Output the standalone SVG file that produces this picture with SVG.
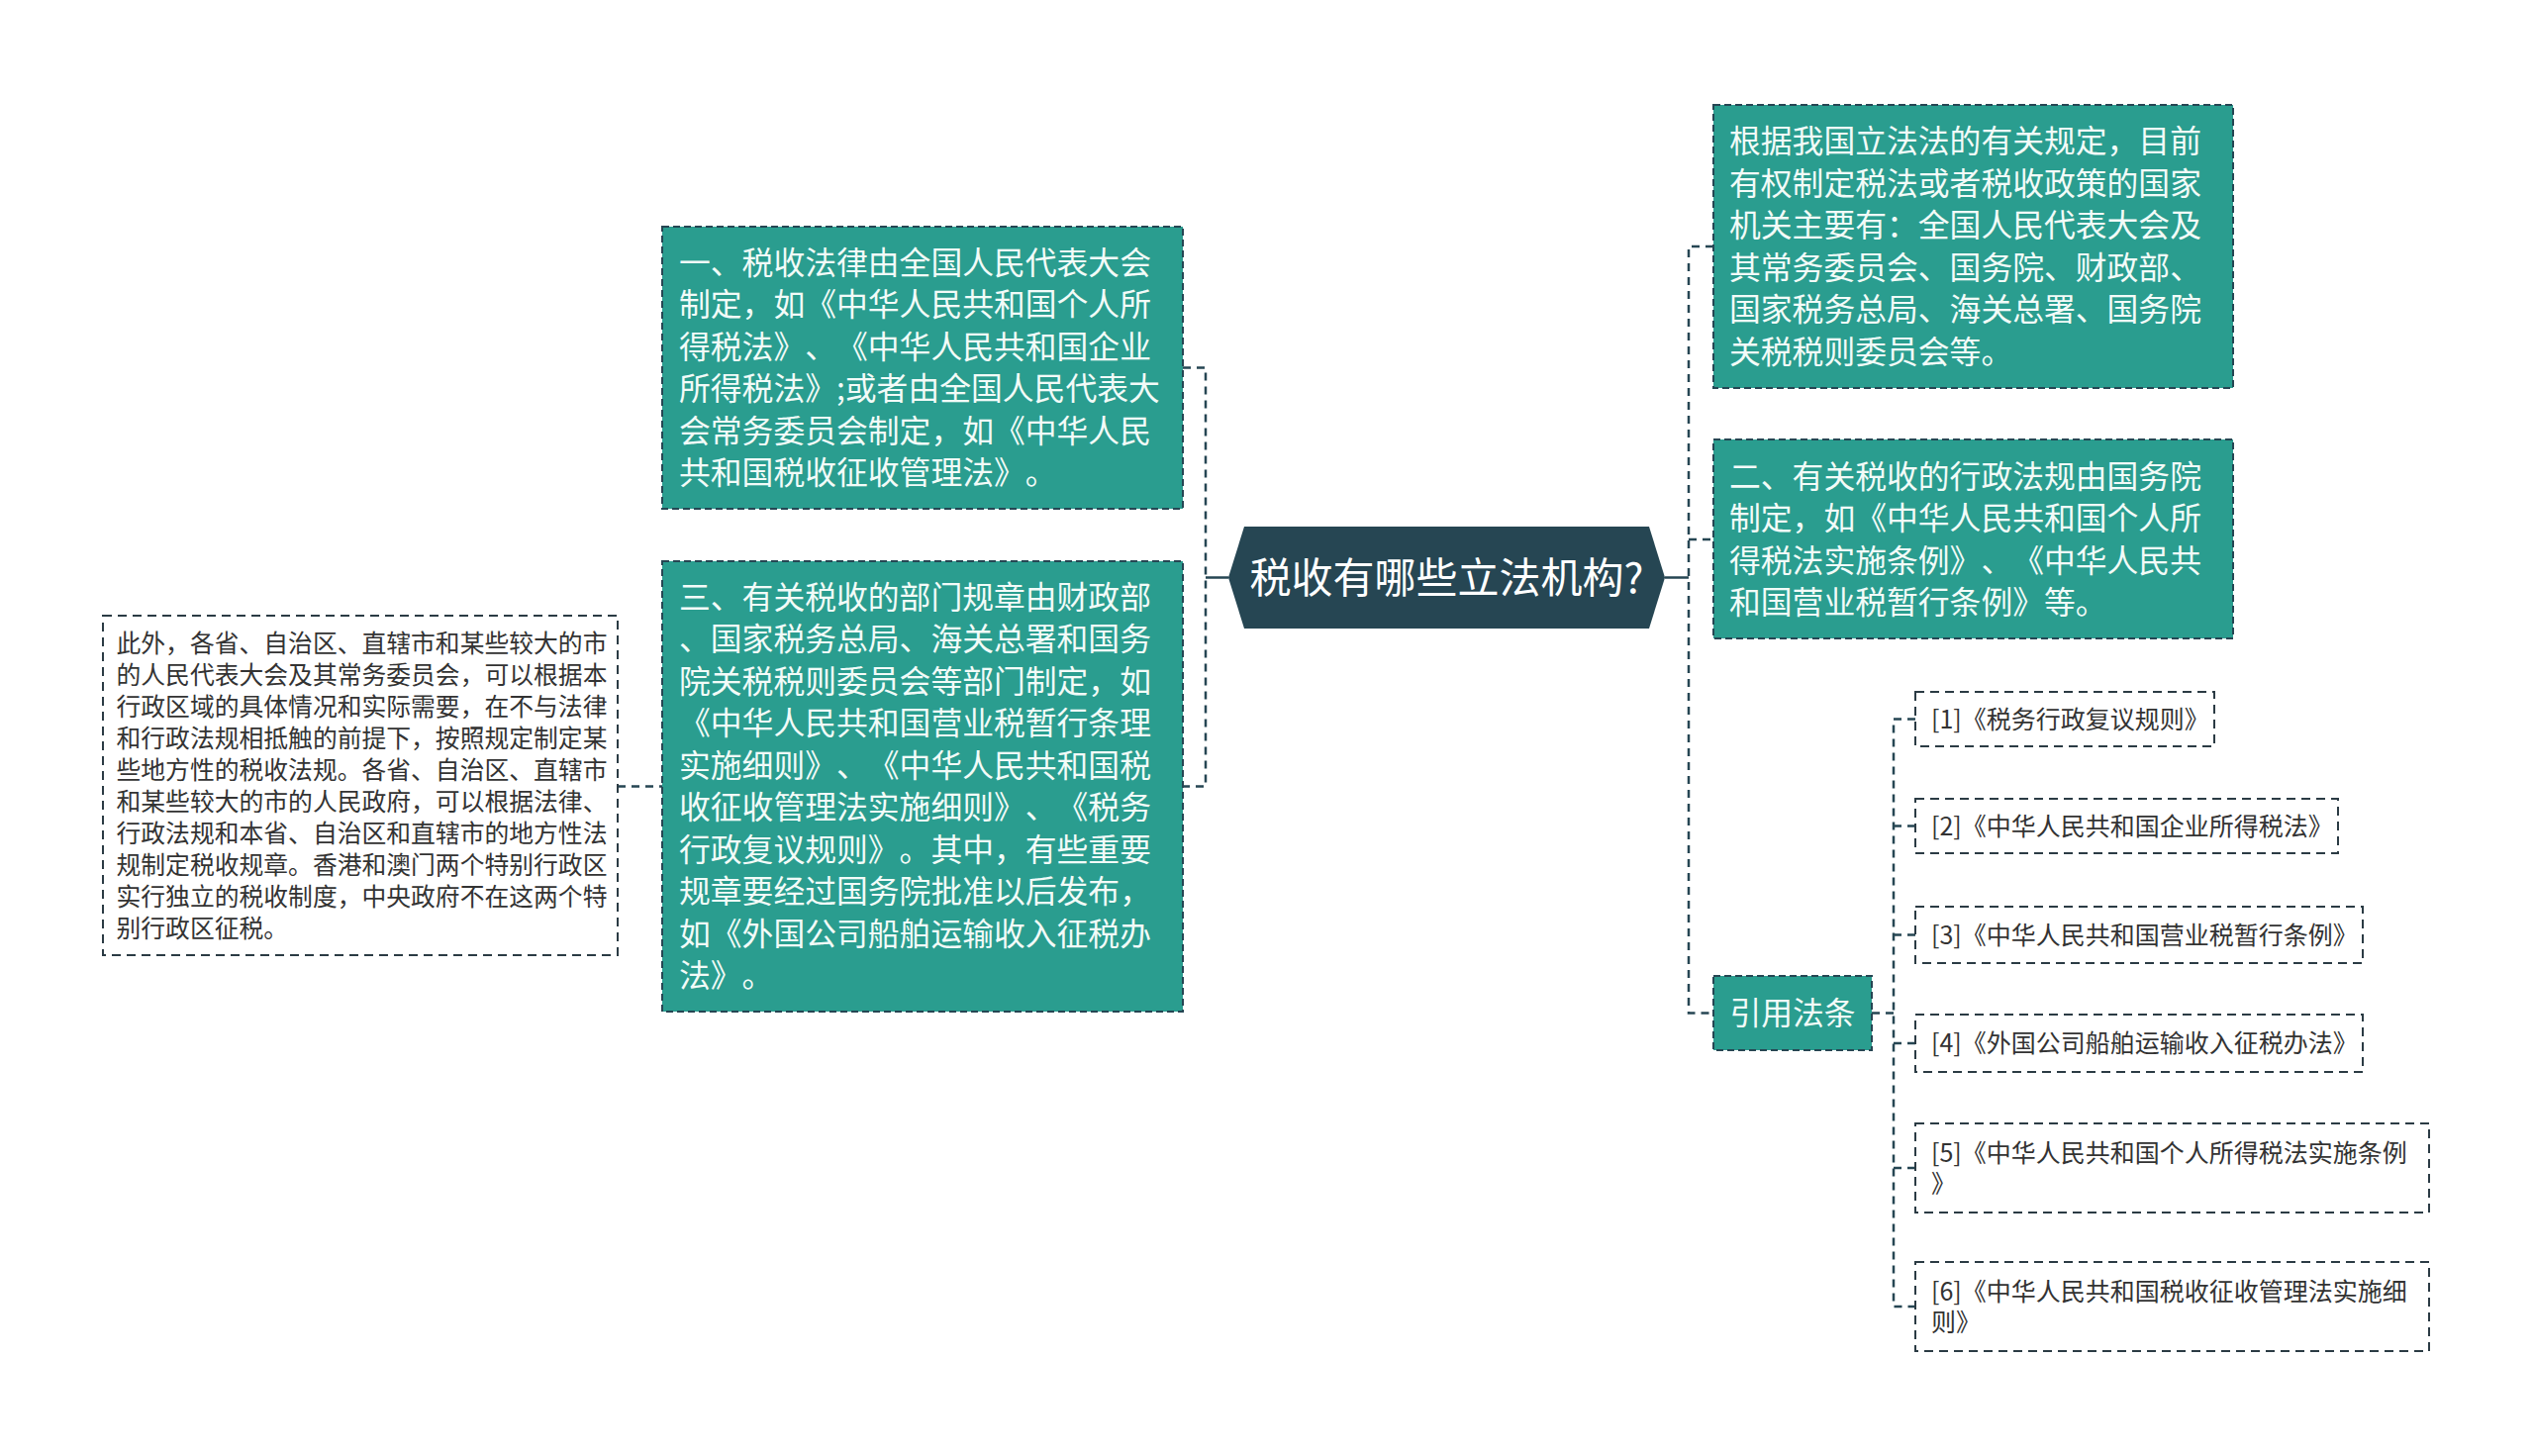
<svg xmlns="http://www.w3.org/2000/svg" width="2560" height="1471" viewBox="0 0 2560 1471">
<style>
text{font-family:"Noto Sans CJK SC","Noto Sans",sans-serif;text-spacing-trim:space-all}
.teal{fill:#2a9d8f;stroke:#264653;stroke-width:2;stroke-dasharray:7 4}
.plain{fill:#ffffff;stroke:#2b3b44;stroke-width:2;stroke-dasharray:9 6}
.tt{fill:#f2fbf8;font-size:31.8px}
.pt{fill:#333333;font-size:24.8px}
.rt{fill:#333333;font-size:25px}
.ct{fill:#ffffff;font-size:42px}
.conn{fill:none;stroke:#264653;stroke-width:2.5;stroke-dasharray:8 6}
.solid{fill:none;stroke:#264653;stroke-width:2.5}
</style>
<rect width="2560" height="1471" fill="#ffffff"/>
<g id="connectors">
<path class="solid" d="M1241 583.5H1218"/>
<path class="conn" d="M1195 371.5H1218V794.5H1195"/>
<path class="conn" d="M624 794.5H669"/>
<path class="solid" d="M1682 583.5H1706"/>
<path class="conn" d="M1731 249H1706V1023.5H1731M1706 545H1731"/>
<path class="conn" d="M1891 1023.5H1913"/>
<path class="conn" d="M1935 726.5H1913V1320H1935M1913 834.5H1935M1913 944.5H1935M1913 1054H1935M1913 1180H1935"/>
</g>
<g id="center">
<polygon points="1241,583.5 1257,532 1666,532 1682,583.5 1666,635 1257,635" fill="#264653"/>
<text class="ct" x="1461.5" y="598.5" text-anchor="middle">税收有哪些立法机构?</text>
</g>
<g id="node1">
<rect class="teal" x="669" y="229" width="526" height="285"/>
<text class="tt">
<tspan x="686" y="276.8">一、税收法律由全国人民代表大会</tspan>
<tspan x="686" y="319.3">制定，如《中华人民共和国个人所</tspan>
<tspan x="686" y="361.8">得税法》、《中华人民共和国企业</tspan>
<tspan x="686" y="404.3">所得税法》;或者由全国人民代表大</tspan>
<tspan x="686" y="446.8">会常务委员会制定，如《中华人民</tspan>
<tspan x="686" y="489.3">共和国税收征收管理法》。</tspan>
</text>
</g>
<g id="node3">
<rect class="teal" x="669" y="567" width="526" height="455"/>
<text class="tt">
<tspan x="686" y="614.8">三、有关税收的部门规章由财政部</tspan>
<tspan x="686" y="657.3">、国家税务总局、海关总署和国务</tspan>
<tspan x="686" y="699.8">院关税税则委员会等部门制定，如</tspan>
<tspan x="686" y="742.3">《中华人民共和国营业税暂行条理</tspan>
<tspan x="686" y="784.8">实施细则》、《中华人民共和国税</tspan>
<tspan x="686" y="827.3">收征收管理法实施细则》、《税务</tspan>
<tspan x="686" y="869.8">行政复议规则》。其中，有些重要</tspan>
<tspan x="686" y="912.3">规章要经过国务院批准以后发布，</tspan>
<tspan x="686" y="954.8">如《外国公司船舶运输收入征税办</tspan>
<tspan x="686" y="997.3">法》。</tspan>
</text>
</g>
<g id="leftnote">
<rect class="plain" x="104" y="622" width="520" height="343"/>
<text class="pt">
<tspan x="117.5" y="658.8">此外，各省、自治区、直辖市和某些较大的市</tspan>
<tspan x="117.5" y="690.8">的人民代表大会及其常务委员会，可以根据本</tspan>
<tspan x="117.5" y="722.8">行政区域的具体情况和实际需要，在不与法律</tspan>
<tspan x="117.5" y="754.8">和行政法规相抵触的前提下，按照规定制定某</tspan>
<tspan x="117.5" y="786.8">些地方性的税收法规。各省、自治区、直辖市</tspan>
<tspan x="117.5" y="818.8">和某些较大的市的人民政府，可以根据法律、</tspan>
<tspan x="117.5" y="850.8">行政法规和本省、自治区和直辖市的地方性法</tspan>
<tspan x="117.5" y="882.8">规制定税收规章。香港和澳门两个特别行政区</tspan>
<tspan x="117.5" y="914.8">实行独立的税收制度，中央政府不在这两个特</tspan>
<tspan x="117.5" y="946.8">别行政区征税。</tspan>
</text>
</g>
<g id="nodeA">
<rect class="teal" x="1731" y="106" width="525" height="286"/>
<text class="tt">
<tspan x="1747" y="154.3">根据我国立法法的有关规定，目前</tspan>
<tspan x="1747" y="196.8">有权制定税法或者税收政策的国家</tspan>
<tspan x="1747" y="239.3">机关主要有：全国人民代表大会及</tspan>
<tspan x="1747" y="281.8">其常务委员会、国务院、财政部、</tspan>
<tspan x="1747" y="324.3">国家税务总局、海关总署、国务院</tspan>
<tspan x="1747" y="366.8">关税税则委员会等。</tspan>
</text>
</g>
<g id="nodeB">
<rect class="teal" x="1731" y="444" width="525" height="201"/>
<text class="tt">
<tspan x="1747" y="492.8">二、有关税收的行政法规由国务院</tspan>
<tspan x="1747" y="535.3">制定，如《中华人民共和国个人所</tspan>
<tspan x="1747" y="577.8">得税法实施条例》、《中华人民共</tspan>
<tspan x="1747" y="620.3">和国营业税暂行条例》等。</tspan>
</text>
</g>
<g id="cite">
<rect class="teal" x="1731" y="986" width="160" height="75"/>
<text class="tt" x="1811" y="1035" text-anchor="middle">引用法条</text>
</g>
<g id="ref1">
<rect class="plain" x="1935" y="699" width="302" height="55"/>
<text class="rt" x="1951" y="735.5">[1]《税务行政复议规则》</text>
</g>
<g id="ref2">
<rect class="plain" x="1935" y="807" width="427" height="55"/>
<text class="rt" x="1951" y="843.5">[2]《中华人民共和国企业所得税法》</text>
</g>
<g id="ref3">
<rect class="plain" x="1935" y="916" width="452" height="57"/>
<text class="rt" x="1951" y="953.5">[3]《中华人民共和国营业税暂行条例》</text>
</g>
<g id="ref4">
<rect class="plain" x="1935" y="1025" width="452" height="58"/>
<text class="rt" x="1951" y="1063">[4]《外国公司船舶运输收入征税办法》</text>
</g>
<g id="ref5">
<rect class="plain" x="1935" y="1135" width="519" height="90"/>
<text class="rt">
<tspan x="1951" y="1174">[5]《中华人民共和国个人所得税法实施条例</tspan>
<tspan x="1951" y="1205">》</tspan>
</text>
</g>
<g id="ref6">
<rect class="plain" x="1935" y="1275" width="519" height="90"/>
<text class="rt">
<tspan x="1951" y="1314">[6]《中华人民共和国税收征收管理法实施细</tspan>
<tspan x="1951" y="1345">则》</tspan>
</text>
</g>
</svg>
